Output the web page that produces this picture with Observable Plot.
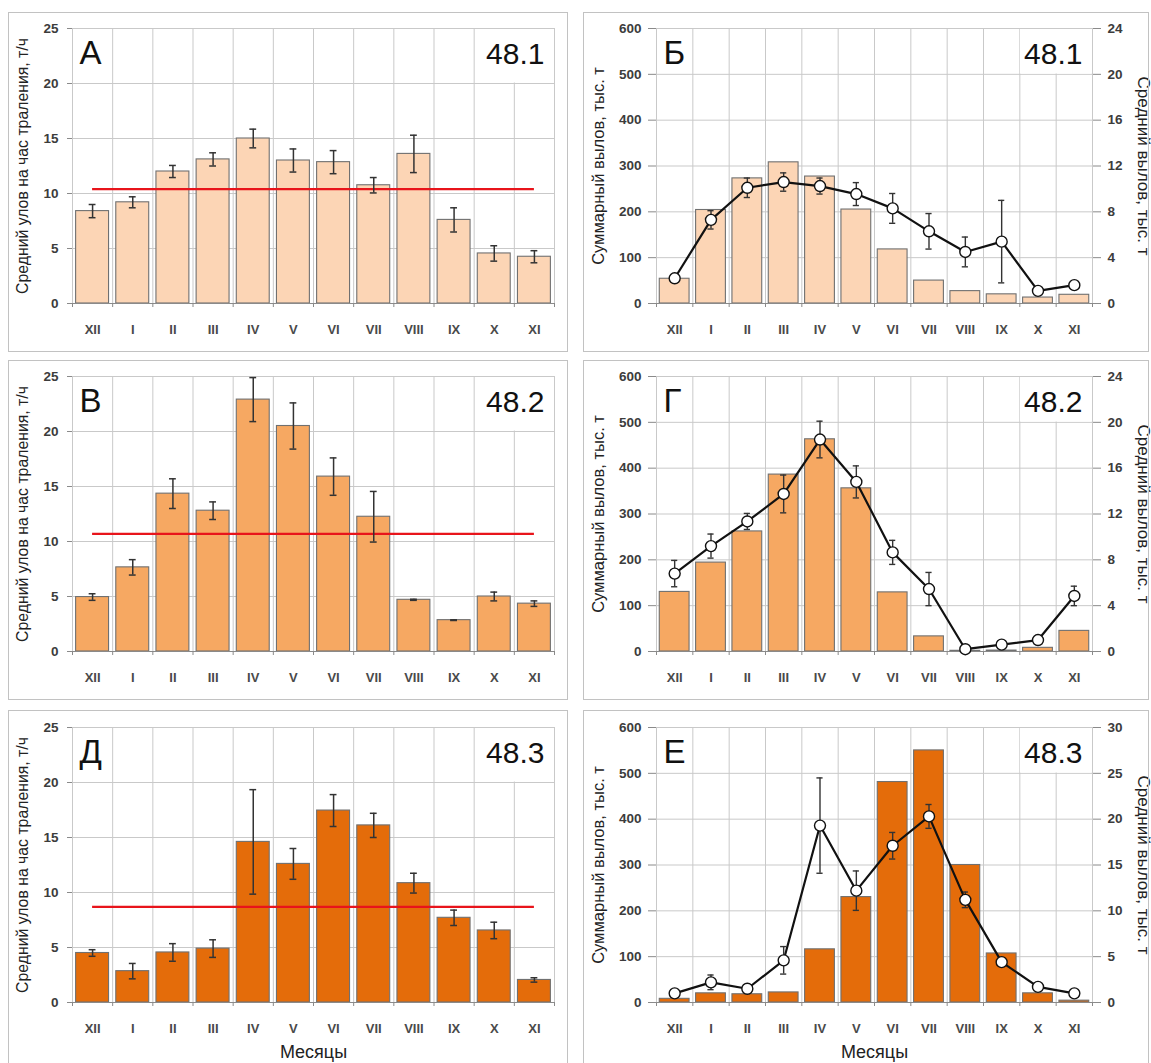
<!DOCTYPE html>
<html>
<head>
<meta charset="utf-8">
<script src="https://cdn.jsdelivr.net/npm/d3@7"></script>
<script src="https://cdn.jsdelivr.net/npm/@observablehq/plot@0.6"></script>
<style>
  html, body { margin: 0; padding: 0; background: #fff; }
  body { width: 1151px; height: 1063px; overflow: hidden; position: relative; font-family: "Liberation Sans", Arial, sans-serif; }
  .cell { position: absolute; }
  .frame { position: absolute; border: 1.5px solid #c2c2c2; box-sizing: border-box; pointer-events: none; }
</style>
</head>
<body>
<script>
// ---------------- DATA ----------------
const months = ["XII", "I", "II", "III", "IV", "V", "VI", "VII", "VIII", "IX", "X", "XI"];

// Средний улов на час траления, т/ч (left column)
const cpue481 = [8.4, 9.2, 12.0, 13.1, 15.0, 13.0, 12.85, 10.75, 13.6, 7.6, 4.55, 4.25];
const cpueErr481 = [0.6, 0.5, 0.55, 0.6, 0.85, 1.05, 1.05, 0.7, 1.7, 1.1, 0.7, 0.55];
const cpueMean481 = 10.4;

const cpue482 = [4.95, 7.65, 14.35, 12.8, 22.9, 20.5, 15.9, 12.25, 4.7, 2.85, 5.0, 4.35];
const cpueErr482 = [0.3, 0.7, 1.35, 0.8, 2.0, 2.1, 1.7, 2.3, 0.05, 0.03, 0.4, 0.25];
const cpueMean482 = 10.7;

const cpue483 = [4.5, 2.85, 4.55, 4.9, 14.6, 12.6, 17.45, 16.1, 10.85, 7.7, 6.55, 2.05];
const cpueErr483 = [0.3, 0.7, 0.8, 0.8, 4.75, 1.4, 1.45, 1.1, 0.9, 0.7, 0.75, 0.2];
const cpueMean483 = 8.7;

// Суммарный вылов, тыс. т (bars) and Средний вылов, тыс. т (line), right column
const total481 = [54, 204, 273, 308, 277, 205, 118, 50, 27, 20, 13, 19];
const avg481 = [2.2, 7.3, 10.1, 10.6, 10.25, 9.55, 8.3, 6.3, 4.5, 5.4, 1.1, 1.6];
const avgErr481 = [0, 0.8, 0.85, 0.8, 0.7, 1.0, 1.3, 1.55, 1.3, 3.6, 0, 0];

const total482 = [130, 194, 262, 386, 463, 356, 129, 33, 1.5, 2, 8, 45];
const avg482 = [6.8, 9.2, 11.35, 13.75, 18.5, 14.8, 8.65, 5.45, 0.2, 0.6, 1.0, 4.85];
const avgErr482 = [1.15, 1.05, 0.7, 1.65, 1.6, 1.4, 1.05, 1.45, 0, 0, 0, 0.85];

const total483 = [8, 20, 18, 22, 116, 230, 481, 550, 300, 107, 20, 4];
const avg483 = [1.0, 2.2, 1.5, 4.6, 19.3, 12.2, 17.1, 20.3, 11.2, 4.4, 1.7, 1.0];
const avgErr483 = [0, 0.8, 0, 1.5, 5.2, 2.15, 1.45, 1.3, 0.85, 0, 0, 0];

const cpueTicks = [0, 5, 10, 15, 20, 25];
const totalTicks = [0, 100, 200, 300, 400, 500, 600];

const titleCpue = "Средний улов на час траления, т/ч";
const titleTotal = "Суммарный вылов, тыс. т";
const titleAvg = "Средний вылов, тыс. т";
const titleMonths = "Месяцы";

// ---------------- LAYOUT / STYLE ----------------
const FONT = "Liberation Sans, Arial, sans-serif";
const GRID = "#c9c9c9";
const AXIS = "#8a8a8a";
const TXT = "#3c3c3c";
const rows = [
  {top: 12, h: 340, mt: 16, fill: "#FCD5B5", area: "48.1"},
  {top: 360, h: 340, mt: 16, fill: "#F6A862", area: "48.2"},
  {top: 710, h: 353, mt: 17, fill: "#E46C0A", area: "48.3", months: true}
];
const PH = 275; // plot height
const left = {x: 8, w: 560, ml: 64, mr: 14};
const right = {x: 583, w: 568, ml: 73, mr: 59};

const panelsLeft = [
  {letter: "А", v: cpue481, e: cpueErr481, mean: cpueMean481},
  {letter: "В", v: cpue482, e: cpueErr482, mean: cpueMean482},
  {letter: "Д", v: cpue483, e: cpueErr483, mean: cpueMean483}
];
const panelsRight = [
  {letter: "Б", bars: total481, line: avg481, e: avgErr481, rmax: 24},
  {letter: "Г", bars: total482, line: avg482, e: avgErr482, rmax: 24},
  {letter: "Е", bars: total483, line: avg483, e: avgErr483, rmax: 30}
];

const PAD = 0.09;   // bar inset in band units
const CAP = 0.085;  // error-bar cap half width in band units

function whiteBox(w, h) {
  return (index, scales, values, dims) => {
    const r = document.createElementNS("http://www.w3.org/2000/svg", "rect");
    r.setAttribute("x", dims.width - dims.marginRight - w);
    r.setAttribute("y", dims.marginTop + 1);
    r.setAttribute("width", w - 1);
    r.setAttribute("height", h - 1.5);
    r.setAttribute("fill", "white");
    return r;
  };
}

function commonMarks(row, boxW, boxH) {
  return [
    Plot.ruleX(d3.range(months.length + 1), {stroke: GRID, strokeWidth: 1}),
    whiteBox(boxW, boxH)
  ];
}

function labelMarks(letter, area, row) {
  const out = [
    Plot.text([letter], {frameAnchor: "top-left", text: d => d, dx: 7, dy: 25, fontSize: 33, textAnchor: "start", lineAnchor: "middle", fill: "#111"}),
    Plot.text([area], {frameAnchor: "top-right", text: d => d, dx: -10, dy: 26, fontSize: 30, textAnchor: "end", lineAnchor: "middle", fill: "#111"})
  ];
  if (row.months) {
    out.push(Plot.text([titleMonths], {frameAnchor: "bottom", text: d => d, dy: 50, fontSize: 18, textAnchor: "middle", lineAnchor: "middle", fill: "#222"}));
  }
  return out;
}

function xAxes() {
  return [
    Plot.axisX(d3.range(months.length + 1), {anchor: "bottom", tickSize: 4, tickFormat: () => "", stroke: AXIS, label: null}),
    Plot.axisX(months.map((m, i) => i + 0.5), {anchor: "bottom", tickSize: 0, tickPadding: 21, tickFormat: d => months[Math.floor(d)], fontSize: 13, fontWeight: "bold", fill: "#4a4a4a", label: null})
  ];
}

function makeLeft(p, row) {
  const data = months.map((m, i) => ({m, i, v: p.v[i], e: p.e[i]}));
  return Plot.plot({
    width: left.w, height: row.h,
    marginLeft: left.ml, marginRight: left.mr, marginTop: row.mt, marginBottom: row.h - row.mt - PH,
    style: {fontFamily: FONT, background: "transparent", overflow: "visible"},
    x: {domain: [0, months.length]},
    y: {domain: [0, 25], label: null},
    marks: [
      Plot.ruleY(cpueTicks, {stroke: GRID, strokeWidth: 1}),
      ...commonMarks(row, 79, 55),
      Plot.rectY(data, {x1: d => d.i + PAD, x2: d => d.i + 1 - PAD, y: "v", fill: row.fill, stroke: "#707070", strokeWidth: 1.1}),
      Plot.ruleY([0], {stroke: AXIS, strokeWidth: 1.2}),
      Plot.ruleY([p.mean], {x1: 0.5, x2: months.length - 0.5, stroke: "#E8141B", strokeWidth: 2.2}),
      Plot.ruleX(data, {x: d => d.i + 0.5, y1: d => d.v - d.e, y2: d => d.v + d.e, stroke: "#333", strokeWidth: 1.5}),
      Plot.ruleY(data, {x1: d => d.i + 0.5 - CAP, x2: d => d.i + 0.5 + CAP, y: d => d.v + d.e, stroke: "#333", strokeWidth: 1.5}),
      Plot.ruleY(data, {x1: d => d.i + 0.5 - CAP, x2: d => d.i + 0.5 + CAP, y: d => d.v - d.e, stroke: "#333", strokeWidth: 1.5}),
      Plot.axisY(cpueTicks, {anchor: "left", tickSize: 5, tickPadding: 9, fontSize: 13.5, fontWeight: "bold", fill: TXT, stroke: AXIS, label: null}),
      ...xAxes(),
      Plot.text([titleCpue], {frameAnchor: "left", rotate: -90, dx: -50, text: d => d, fontSize: 15.8, textAnchor: "middle", lineAnchor: "middle", fill: "#222"}),
      ...labelMarks(p.letter, row.area, row)
    ]
  });
}

function makeRight(p, row) {
  const k = 600 / p.rmax;
  const data = months.map((m, i) => ({m, i, b: p.bars[i], a: p.line[i], e: p.e[i]}));
  const errs = data.filter(d => d.e > 0);
  return Plot.plot({
    width: right.w, height: row.h,
    marginLeft: right.ml, marginRight: right.mr, marginTop: row.mt, marginBottom: row.h - row.mt - PH,
    style: {fontFamily: FONT, background: "transparent", overflow: "visible"},
    x: {domain: [0, months.length]},
    y: {domain: [0, 600], label: null},
    marks: [
      Plot.ruleY(totalTicks, {stroke: GRID, strokeWidth: 1}),
      ...commonMarks(row, 72, 46),
      Plot.rectY(data, {x1: d => d.i + PAD, x2: d => d.i + 1 - PAD, y: "b", fill: row.fill, stroke: "#707070", strokeWidth: 1.1}),
      Plot.ruleY([0], {stroke: AXIS, strokeWidth: 1.2}),
      Plot.ruleX(errs, {x: d => d.i + 0.5, y1: d => (d.a - d.e) * k, y2: d => (d.a + d.e) * k, stroke: "#333", strokeWidth: 1.4}),
      Plot.ruleY(errs, {x1: d => d.i + 0.5 - CAP, x2: d => d.i + 0.5 + CAP, y: d => (d.a + d.e) * k, stroke: "#333", strokeWidth: 1.4}),
      Plot.ruleY(errs, {x1: d => d.i + 0.5 - CAP, x2: d => d.i + 0.5 + CAP, y: d => (d.a - d.e) * k, stroke: "#333", strokeWidth: 1.4}),
      Plot.line(data, {x: d => d.i + 0.5, y: d => d.a * k, stroke: "#111", strokeWidth: 2.2}),
      Plot.dot(data, {x: d => d.i + 0.5, y: d => d.a * k, r: 5.5, fill: "white", stroke: "#111", strokeWidth: 1.4}),
      Plot.axisY(totalTicks, {anchor: "left", tickSize: 8, tickPadding: 7, fontSize: 13.5, fontWeight: "bold", fill: TXT, stroke: AXIS, label: null}),
      Plot.axisY(totalTicks, {anchor: "right", tickSize: 8, tickPadding: 7, tickFormat: d => d / k, fontSize: 13.5, fontWeight: "bold", fill: TXT, stroke: AXIS, label: null}),
      ...xAxes(),
      Plot.text([titleTotal], {frameAnchor: "left", rotate: -90, dx: -58, text: d => d, fontSize: 16.5, textAnchor: "middle", lineAnchor: "middle", fill: "#222"}),
      Plot.text([titleAvg], {frameAnchor: "right", rotate: 90, dx: 51, text: d => d, fontSize: 17, textAnchor: "middle", lineAnchor: "middle", fill: "#222"}),
      ...labelMarks(p.letter, row.area, row)
    ]
  });
}

function place(node, x, y, w, h) {
  const cell = document.createElement("div");
  cell.className = "cell";
  cell.style.left = x + "px";
  cell.style.top = y + "px";
  cell.appendChild(node);
  document.body.appendChild(cell);
  const fr = document.createElement("div");
  fr.className = "frame";
  fr.style.left = x + "px";
  fr.style.top = y + "px";
  fr.style.width = w + "px";
  fr.style.height = h + "px";
  document.body.appendChild(fr);
}

rows.forEach((row, r) => {
  const frameH = row.months ? row.h + 20 : row.h;
  place(makeLeft(panelsLeft[r], row), left.x, row.top, left.w, frameH);
  place(makeRight(panelsRight[r], row), right.x, row.top, right.w - 2, frameH);
});
</script>
</body>
</html>
